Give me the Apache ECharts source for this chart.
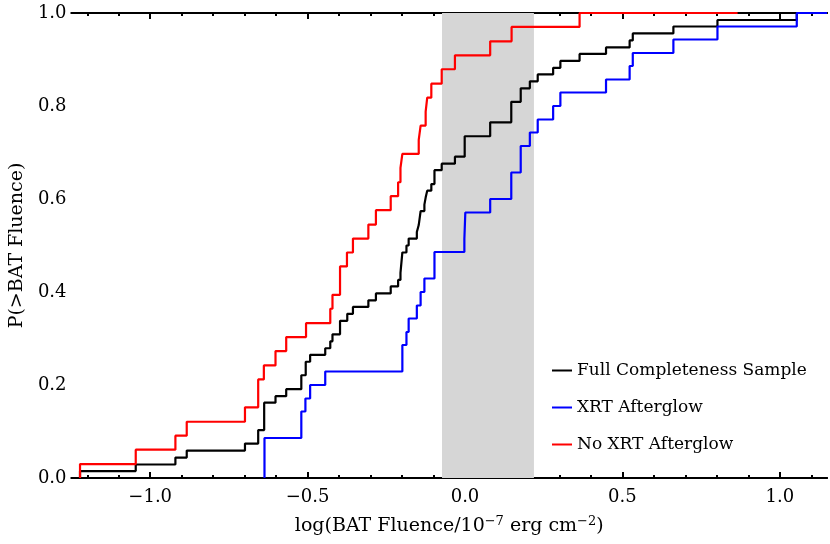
<!DOCTYPE html>
<html>
<head>
<meta charset="utf-8">
<script src="https://cdn.jsdelivr.net/npm/echarts@6/dist/echarts.min.js"></script>
<style>
  html, body { margin: 0; padding: 0; background: #fff; }
  #chart { width: 830px; height: 544px; }
</style>
</head>
<body>
<div id="chart"></div>
<script>
// cumulative step curves (x = log fluence, p = level after the step)
var fullX = [-1.223, -1.223, -1.046, -0.920, -0.884, -0.699, -0.657, -0.638, -0.602, -0.568,
  -0.520, -0.506, -0.492, -0.444, -0.428, -0.421, -0.397, -0.374, -0.356, -0.307,
  -0.283, -0.236, -0.2125, -0.205, -0.199, -0.186, -0.179, -0.153, -0.147, -0.141,
  -0.129, -0.125, -0.120, -0.107, -0.097, -0.074, -0.032, -0.001, 0.080, 0.147,
  0.177, 0.206, 0.231, 0.280, 0.303, 0.364, 0.448, 0.523, 0.533, 0.662,
  0.802, 1.054, 1.15];
var fullP = [0, 0.015, 0.029, 0.044, 0.059, 0.074, 0.103, 0.162, 0.176, 0.191,
  0.221, 0.250, 0.265, 0.279, 0.294, 0.309, 0.338, 0.353, 0.368, 0.382,
  0.397, 0.412, 0.426, 0.441, 0.485, 0.500, 0.515, 0.529, 0.544, 0.574,
  0.588, 0.603, 0.618, 0.632, 0.662, 0.676, 0.691, 0.735, 0.765, 0.809,
  0.838, 0.853, 0.868, 0.882, 0.897, 0.912, 0.926, 0.941, 0.956, 0.971,
  0.985, 1.0, 1.0];

var xrtX = [-0.637, -0.637, -0.520, -0.507, -0.492, -0.444, -0.199, -0.186, -0.179, -0.153,
  -0.141, -0.129, -0.097, -0.002, 0.001, 0.080, 0.147, 0.177, 0.206, 0.231,
  0.280, 0.303, 0.448, 0.523, 0.533, 0.662, 0.802, 1.054, 1.15];
var xrtP = [0, 0.086, 0.143, 0.171, 0.200, 0.229, 0.286, 0.314, 0.343, 0.371,
  0.400, 0.429, 0.486, 0.514, 0.571, 0.600, 0.657, 0.714, 0.743, 0.771,
  0.800, 0.829, 0.857, 0.886, 0.914, 0.943, 0.971, 1.0, 1.0];

var noXrtX = [-1.223, -1.223, -1.046, -0.920, -0.884, -0.699, -0.657, -0.639, -0.602, -0.568,
  -0.505, -0.428, -0.421, -0.397, -0.375, -0.356, -0.307, -0.283, -0.236, -0.2125,
  -0.205, -0.199, -0.147, -0.141, -0.125, -0.120, -0.107, -0.074, -0.032, 0.080,
  0.148, 0.364, 0.866];
var noXrtP = [0, 0.030, 0.061, 0.091, 0.121, 0.152, 0.212, 0.242, 0.273, 0.303,
  0.333, 0.364, 0.394, 0.455, 0.485, 0.515, 0.545, 0.576, 0.606, 0.636,
  0.667, 0.697, 0.727, 0.758, 0.788, 0.818, 0.848, 0.879, 0.909, 0.939,
  0.970, 1.0, 1.0];

var bandX = [-0.073, 0.219];   // shaded region
var xMajor = [-1.0, -0.5, 0.0, 0.5, 1.0];
var xMinor = [-1.2, -1.1, -0.9, -0.8, -0.7, -0.6, -0.4, -0.3, -0.2, -0.1,
  0.1, 0.2, 0.3, 0.4, 0.6, 0.7, 0.8, 0.9, 1.1];

var font = 'DejaVu Serif';

function pairs(xs, ps) {
  var out = [];
  for (var i = 0; i < xs.length; i++) out.push([xs[i], ps[i]]);
  return out;
}

function fmt(v) {
  return (v < 0 ? '\u2212' : '') + Math.abs(v).toFixed(1);
}

function xAxisDef(pos, ticks, len, labels) {
  return {
    type: 'value', position: pos, min: -1.25, max: 1.15,
    axisLine: { show: true, onZero: false, lineStyle: { color: '#000', width: 2 } },
    splitLine: { show: false },
    axisTick: { show: true, inside: true, length: len, customValues: ticks,
      lineStyle: { color: '#000', width: 2 } },
    axisLabel: labels ? { show: true, customValues: ticks, formatter: fmt, margin: 10,
      color: '#000', fontFamily: font, fontSize: 18 } : { show: false }
  };
}

function yAxisDef(pos, labels) {
  return {
    type: 'value', position: pos, min: 0, max: 1, interval: 0.2,
    axisLine: { show: true, lineStyle: { color: '#000', width: 2 } },
    splitLine: { show: false },
    axisTick: { show: true, inside: true, length: 6, lineStyle: { color: '#000', width: 2 } },
    minorTick: { show: true, splitNumber: 4, length: 3, lineStyle: { color: '#000', width: 1.5 } },
    axisLabel: labels ? { show: true, formatter: fmt, margin: 5, color: '#000',
      fontFamily: font, fontSize: 18 } : { show: false }
  };
}

var chart = echarts.init(document.getElementById('chart'), null, { renderer: 'canvas' });

var bottomMajor = xAxisDef('bottom', xMajor, 6, true);
bottomMajor.name = '{a|log(BAT Fluence/10}{s|\u22127}{a| erg cm}{s|\u22122}{a|)}';
bottomMajor.nameLocation = 'middle';
bottomMajor.nameGap = 37;
bottomMajor.nameTextStyle = {
  rich: {
    a: { fontFamily: font, fontSize: 19, color: '#000' },
    s: { fontFamily: font, fontSize: 13, color: '#000', padding: [0, 0, 10, 0] }
  }
};

var leftY = yAxisDef('left', true);
leftY.name = 'P(>BAT Fluence)';
leftY.nameLocation = 'middle';
leftY.nameGap = 43;
leftY.nameTextStyle = { fontFamily: font, fontSize: 19, color: '#000' };

var option = {
  animation: false,
  backgroundColor: '#fff',
  grid: { left: 67, right: 3, top: 13, bottom: 66 },
  xAxis: [
    bottomMajor,
    xAxisDef('bottom', xMinor, 3, false),
    xAxisDef('top', xMajor, 6, false),
    xAxisDef('top', xMinor, 3, false)
  ],
  yAxis: [leftY, yAxisDef('right', false)],
  legend: {
    orient: 'vertical', left: 547, top: 357, itemGap: 20,
    itemWidth: 20, itemHeight: 2, icon: 'rect',
    textStyle: { fontFamily: font, fontSize: 17, color: '#000' },
    data: ['Full Completeness Sample', 'XRT Afterglow', 'No XRT Afterglow']
  },
  series: [
    {
      name: 'Full Completeness Sample', type: 'line', step: 'end', showSymbol: false,
      symbol: 'none', clip: true, z: 3,
      lineStyle: { color: '#000', width: 2.2 }, itemStyle: { color: '#000' },
      data: pairs(fullX, fullP),
      markArea: {
        silent: true,
        itemStyle: { color: '#d6d6d6' },
        data: [[{ xAxis: bandX[0] }, { xAxis: bandX[1] }]]
      }
    },
    {
      name: 'XRT Afterglow', type: 'line', step: 'end', showSymbol: false,
      symbol: 'none', clip: true, z: 4,
      lineStyle: { color: '#0000ff', width: 2.2 }, itemStyle: { color: '#0000ff' },
      data: pairs(xrtX, xrtP)
    },
    {
      name: 'No XRT Afterglow', type: 'line', step: 'end', showSymbol: false,
      symbol: 'none', clip: true, z: 5,
      lineStyle: { color: '#ff0000', width: 2.2 }, itemStyle: { color: '#ff0000' },
      data: pairs(noXrtX, noXrtP)
    }
  ]
};
chart.setOption(option);
</script>
</body>
</html>
